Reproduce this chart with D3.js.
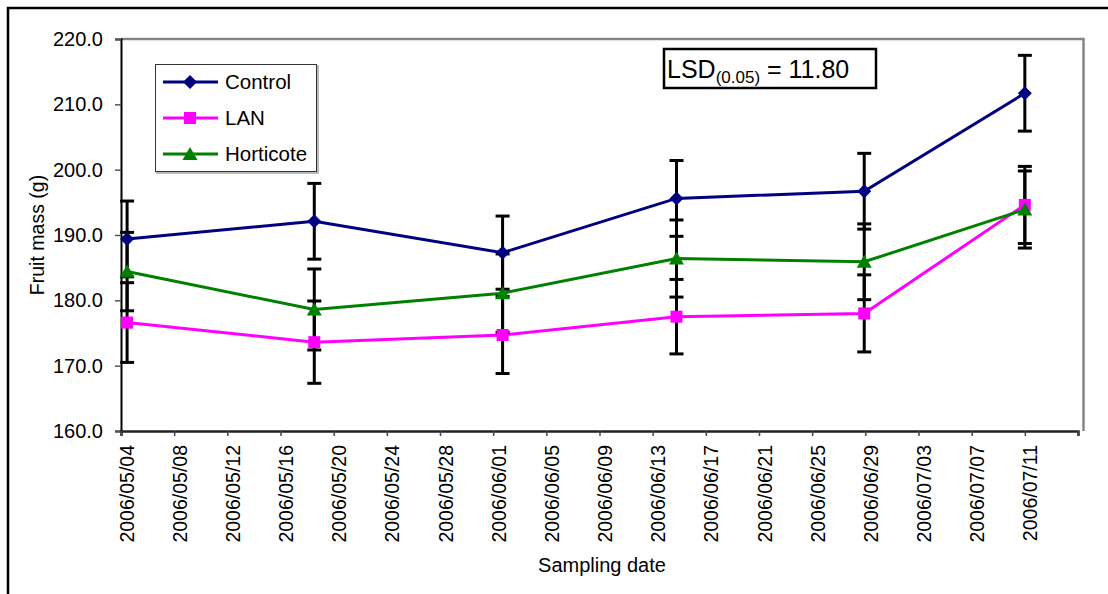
<!DOCTYPE html>
<html>
<head>
<meta charset="utf-8">
<script src="https://cdn.jsdelivr.net/npm/d3@7"></script>
<style>
  html, body { margin: 0; padding: 0; background: #fff; }
  svg { display: block; font-family: "Liberation Sans", Arial, sans-serif; }
</style>
</head>
<body>
<svg id="chart" width="1108" height="594"></svg>
<script>
// Sampling times (date + hour of collection)
const samplingTimes = ["2006/05/04 11:00", "2006/05/18 13:00", "2006/06/01 17:00",
                       "2006/06/14 19:00", "2006/06/28 22:00", "2006/07/11 00:00"];

// Mean fruit mass (g) per treatment
const controlMass   = [189.4, 192.1, 187.3, 195.6, 196.7, 211.7];
const lanMass       = [176.6, 173.6, 174.7, 177.5, 178.0, 194.6];
const horticoteMass = [184.4, 178.6, 181.1, 186.4, 185.9, 193.9];

// Error bar half-widths (g)
const controlErr   = [5.8, 5.8, 5.6, 5.8, 5.8, 5.8];
const lanErr       = [6.1, 6.3, 5.9, 5.7, 5.9, 5.9];
const horticoteErr = [6.0, 6.2, 6.0, 5.9, 5.8, 5.9];

const seriesNames = ["Control", "LAN", "Horticote"];
const yTicks = [160, 170, 180, 190, 200, 210, 220];
const xTickLabels = ["2006/05/04", "2006/05/08", "2006/05/12", "2006/05/16", "2006/05/20",
                     "2006/05/24", "2006/05/28", "2006/06/01", "2006/06/05", "2006/06/09",
                     "2006/06/13", "2006/06/17", "2006/06/21", "2006/06/25", "2006/06/29",
                     "2006/07/03", "2006/07/07", "2006/07/11", "2006/07/15"];
const lsdText = { main: "LSD", sub: "(0.05)", value: " = 11.80" };

const parseTime = d3.timeParse("%Y/%m/%d %H:%M");
const parseDay = d3.timeParse("%Y/%m/%d");
const fmtDay = d3.timeFormat("%Y/%m/%d");

const svg = d3.select("#chart");

const plot = { left: 121, right: 1078, top: 39, bottom: 431, frameRight: 1083.5 };

const x = d3.scaleTime()
  .domain([parseDay(xTickLabels[0]), parseDay(xTickLabels[xTickLabels.length - 1])])
  .range([plot.left, plot.right]);
const y = d3.scaleLinear().domain([160, 220]).range([plot.bottom, plot.top]);

const styles = {
  Control:   { color: "#000080", marker: "diamond" },
  LAN:       { color: "#ff00ff", marker: "square" },
  Horticote: { color: "#008000", marker: "triangle" }
};

const times = samplingTimes.map(parseTime);
const series = [
  { name: "Control",   values: controlMass,   err: controlErr },
  { name: "LAN",       values: lanMass,       err: lanErr },
  { name: "Horticote", values: horticoteMass, err: horticoteErr }
].map(s => ({ ...s, points: s.values.map((v, i) => ({ t: times[i], v, e: s.err[i] })) }));

// Outer frame
svg.append("path")
  .attr("d", "M8,600 L8,8 L1120,8")
  .attr("fill", "none").attr("stroke", "#000").attr("stroke-width", 2.5);

// Plot frame (top and right)
svg.append("path")
  .attr("d", `M${plot.left},${plot.top} L${plot.frameRight},${plot.top} L${plot.frameRight},${plot.bottom}`)
  .attr("fill", "none").attr("stroke", "#868686").attr("stroke-width", 2.5);

// Y axis
const yAxis = svg.append("g")
  .attr("transform", `translate(${plot.left},0)`)
  .call(d3.axisLeft(y).tickValues(yTicks).tickFormat(d3.format(".1f")).tickSize(6).tickPadding(12));
yAxis.select(".domain").attr("stroke", "#000").attr("stroke-width", 2);
yAxis.selectAll(".tick line").attr("stroke", "#555").attr("stroke-width", 1.5);
yAxis.selectAll(".tick text")
  .attr("font-size", 20).attr("fill", "#000")
  .attr("font-family", "Liberation Sans, Arial, sans-serif");

// X axis
const xAxis = svg.append("g")
  .attr("transform", `translate(0,${plot.bottom})`)
  .call(d3.axisBottom(x).tickValues(xTickLabels.map(parseDay)).tickFormat(fmtDay).tickSize(5));
xAxis.select(".domain").attr("stroke", "#222").attr("stroke-width", 2.5);
xAxis.selectAll(".tick line").attr("stroke", "#444").attr("stroke-width", 1.5);
xAxis.selectAll(".tick text")
  .attr("font-size", 19.5).attr("fill", "#000")
  .attr("font-family", "Liberation Sans, Arial, sans-serif")
  .attr("text-anchor", "end")
  .attr("x", -14).attr("y", 0).attr("dx", 0).attr("dy", "0.36em")
  .attr("transform", "translate(5,0) rotate(-90)");
xAxis.selectAll(".tick").filter((d, i) => i === xTickLabels.length - 1).select("text").remove();

// Axis titles
svg.append("text")
  .attr("transform", `translate(44,${(plot.top + plot.bottom) / 2}) rotate(-90)`)
  .attr("text-anchor", "middle").attr("font-size", 19.5).text("Fruit mass (g)");
svg.append("text")
  .attr("x", 602).attr("y", 572)
  .attr("text-anchor", "middle").attr("font-size", 20).text("Sampling date");

// Lines
const line = d3.line().x(d => x(d.t)).y(d => y(d.v));
series.forEach(s => {
  svg.append("path")
    .datum(s.points)
    .attr("d", line)
    .attr("fill", "none")
    .attr("stroke", styles[s.name].color)
    .attr("stroke-width", 3);
});

// Error bars
const capHalf = 7;
series.forEach(s => {
  const g = svg.append("g").attr("stroke", "#000").attr("stroke-width", 3);
  s.points.forEach(p => {
    const cx = x(p.t);
    g.append("line").attr("x1", cx).attr("x2", cx).attr("y1", y(p.v + p.e)).attr("y2", y(p.v - p.e));
    g.append("line").attr("x1", cx - capHalf).attr("x2", cx + capHalf).attr("y1", y(p.v + p.e)).attr("y2", y(p.v + p.e));
    g.append("line").attr("x1", cx - capHalf).attr("x2", cx + capHalf).attr("y1", y(p.v - p.e)).attr("y2", y(p.v - p.e));
  });
});

// Markers
function drawMarker(g, kind, cx, cy, color) {
  if (kind === "diamond") {
    g.append("path").attr("d", `M${cx},${cy - 7} L${cx + 7},${cy} L${cx},${cy + 7} L${cx - 7},${cy} Z`).attr("fill", color);
  } else if (kind === "square") {
    g.append("rect").attr("x", cx - 6).attr("y", cy - 6).attr("width", 12).attr("height", 12).attr("fill", color);
  } else {
    g.append("path").attr("d", `M${cx},${cy - 7} L${cx + 7.5},${cy + 6} L${cx - 7.5},${cy + 6} Z`).attr("fill", color);
  }
}
series.forEach(s => {
  const g = svg.append("g");
  s.points.forEach(p => drawMarker(g, styles[s.name].marker, x(p.t), y(p.v), styles[s.name].color));
});

// Legend
const legend = svg.append("g");
legend.append("rect").attr("x", 157).attr("y", 66).attr("width", 161).attr("height", 107)
  .attr("fill", "none").attr("stroke", "#bbb").attr("stroke-width", 2);
legend.append("rect").attr("x", 155.5).attr("y", 64.5).attr("width", 161).attr("height", 107)
  .attr("fill", "#fff").attr("stroke", "#333").attr("stroke-width", 1);
seriesNames.forEach((name, i) => {
  const ly = 82 + i * 36;
  legend.append("line").attr("x1", 163).attr("x2", 218).attr("y1", ly).attr("y2", ly)
    .attr("stroke", styles[name].color).attr("stroke-width", 3);
  drawMarker(legend, styles[name].marker, 190, ly, styles[name].color);
  legend.append("text").attr("x", 225).attr("y", ly + 7).attr("font-size", 20.5).text(name);
});

// LSD annotation
const lsd = svg.append("g");
lsd.append("rect").attr("x", 664).attr("y", 49).attr("width", 212).attr("height", 39)
  .attr("fill", "#fff").attr("stroke", "#000").attr("stroke-width", 2.5);
const lsdT = lsd.append("text").attr("x", 667).attr("y", 78).attr("font-size", 25);
lsdT.append("tspan").text(lsdText.main);
lsdT.append("tspan").attr("font-size", 17).attr("dy", 5).text(lsdText.sub);
lsdT.append("tspan").attr("dy", -5).text(lsdText.value);
</script>
</body>
</html>
